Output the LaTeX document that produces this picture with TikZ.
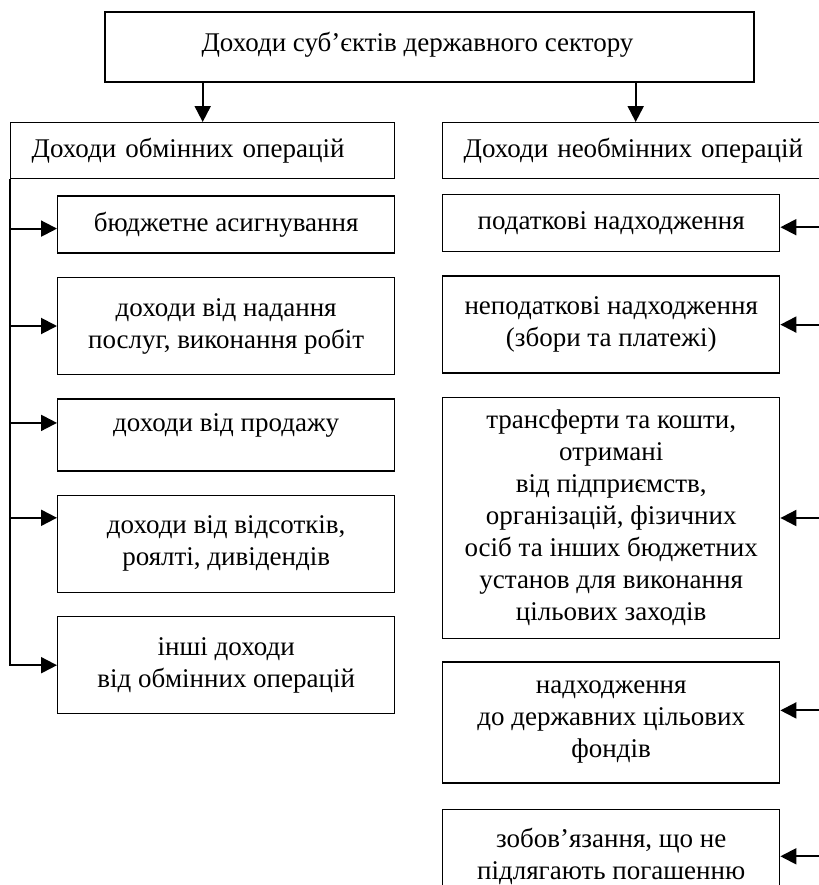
\documentclass[tikz,border=0pt]{standalone}
\usepackage{fontspec}
\setmainfont{Liberation Serif}
\usetikzlibrary{arrows.meta,positioning}

\begin{document}
\begin{tikzpicture}[
  font=\fontsize{13.5pt}{16pt}\selectfont,
  node distance=11.5pt,
  box/.style={draw, line width=0.7pt, minimum width=168.5pt, align=center, inner sep=2pt},
  head/.style={draw, line width=0.7pt, anchor=north west, minimum height=28pt, align=left, inner xsep=10.5pt},
  arr/.style={-{Triangle[length=8pt,width=8pt]}, line width=1pt}
]
\useasboundingbox (0,0) rectangle (409.5pt,-442.5pt);

% top level
\node[box, minimum width=324.5pt, minimum height=35pt, text depth=5pt] (top) at (214.75pt,-23.5pt) {Доходи суб’єктів державного сектору\hspace*{12pt}};
\node[head, text width=171pt] (hl) at (5pt,-61pt) {Доходи обмінних операцій};
\node[head, text width=185pt] (hr) at (221pt,-61pt) {Доходи необмінних операцій};

% exchange operations
\node[box, minimum height=28.5pt, below left=8pt and 0pt of hl.south east] (l1) {бюджетне асигнування};
\node[box, minimum height=48.5pt, below=of l1] (l2) {доходи від надання\\послуг, виконання робіт};
\node[box, minimum height=36pt, text depth=12pt, below=of l2] (l3) {доходи від продажу};
\node[box, minimum height=48.5pt, below=of l3] (l4) {доходи від відсотків,\\роялті, дивідендів};
\node[box, minimum height=48.5pt, below=of l4] (l5) {інші доходи\\від обмінних операцій};

% non-exchange operations
\node[box, minimum height=28.5pt, anchor=north west] (r1) at (221pt,-97pt) {податкові надходження};
\node[box, minimum height=48.5pt, below=of r1] (r2) {неподаткові надходження\\(збори та платежі)};
\node[box, minimum height=120.5pt, below=of r2] (r3) {трансферти та кошти,\\отримані\\від підприємств,\\організацій, фізичних\\осіб та інших бюджетних\\установ для виконання\\цільових заходів};
\node[box, minimum height=60.5pt, below=11pt of r3] (r4) {надходження\\до державних цільових\\фондів};
\node[box, minimum height=47pt, below=12.5pt of r4] (r5) {зобов’язання, що не\\підлягають погашенню};

\coordinate (hlin) at (hl.north);
\coordinate (hrin) at ([xshift=-6.5pt]hr.north);
\draw[arr] (top.south -| hlin) -- (hlin);
\draw[arr] (top.south -| hrin) -- (hrin);

\coordinate (trunk) at (hl.south west);
\coordinate (edge) at (409.5pt,0);
\draw[arr] (trunk) |- (l5.west);
\foreach \n/\s in {l1/-2pt,l2/0pt,l3/6pt,l4/13pt}{
  \coordinate (in) at ([yshift=\s]\n.west);
  \draw[arr] (trunk |- in) -- (in);
}
\foreach \n/\s in {r1/-2pt,r2/0pt,r3/0pt,r4/6pt,r5/0pt}{
  \coordinate (in) at ([yshift=\s]\n.east);
  \draw[arr] (edge |- in) -- (in);
}
\end{tikzpicture}
\end{document}
